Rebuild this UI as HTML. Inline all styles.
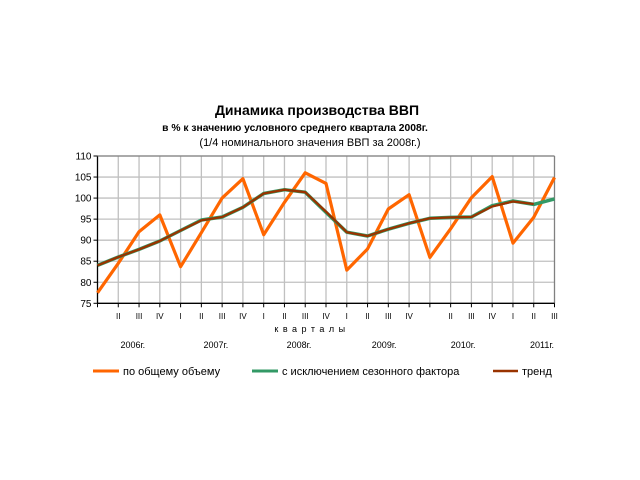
<!DOCTYPE html>
<html><head><meta charset="utf-8"><style>
html,body{margin:0;padding:0;background:#fff;}
svg{display:block;font-family:"Liberation Sans",Arial,sans-serif;}
</style></head><body>
<svg id="chart" width="640" height="480" viewBox="0 0 640 480" xmlns="http://www.w3.org/2000/svg">
<text x="317" y="115" font-size="14" font-weight="bold" text-anchor="middle">Динамика производства ВВП</text>
<text x="295" y="131" font-size="10.3" font-weight="bold" text-anchor="middle">в % к значению условного среднего квартала 2008г.</text>
<text x="310" y="146" font-size="11" text-anchor="middle">(1/4 номинального значения ВВП за 2008г.)</text>
<g id="grid"></g>
<g id="axes"></g>
<g id="series"></g>
<text x="312" y="332" font-size="9" text-anchor="middle" letter-spacing="4.5">кварталы</text>
<g font-size="11">
<line x1="93" y1="371" x2="119" y2="371" stroke="#ff6600" stroke-width="3"/>
<text x="123" y="375">по общему объему</text>
<line x1="252" y1="371" x2="278" y2="371" stroke="#339966" stroke-width="3"/>
<text x="282" y="375">с исключением сезонного фактора</text>
<line x1="493" y1="371" x2="518" y2="371" stroke="#993300" stroke-width="2.5"/>
<text x="522" y="375">тренд</text>
</g>
</svg>
<script>
const quarterLabels = ["","II","III","IV","I","II","III","IV","I","II","III","IV","I","II","III","IV","","II","III","IV","I","II","III"];
const yearLabels = ["2006г.","2007г.","2008г.","2009г.","2010г.","2011г."];
const yearIndexPos = [1.7,5.7,9.7,13.8,17.6,21.4];
const yTicks = [75,80,85,90,95,100,105,110];
const totalVolume = [77.5,84.5,92,96,83.7,91.8,100,104.6,91.3,99,106,103.5,82.9,87.9,97.4,100.8,85.9,92.7,100.1,105.1,89.3,95.4,104.9];
const seasonalAdj = [84,86,87.8,89.8,92.3,94.8,95.5,97.8,101.1,102,101.4,96.6,91.9,91,92.6,94,95.2,95.4,95.5,98.2,99.3,98.5,99.8];
const trend = [84,86,87.8,89.8,92.3,94.7,95.5,97.8,101.1,102,101.4,96.8,91.9,91,92.6,94,95.2,95.4,95.5,98,99.2,98.6];

const NS="http://www.w3.org/2000/svg";
const x0=97.5,x1=554.5,yTop=156,yBot=303.3,yMin=75,yMax=110;
const n=totalVolume.length;
function xPos(i){return x0+i*(x1-x0)/(n-1);}
function yPos(v){return yBot-(v-yMin)/(yMax-yMin)*(yBot-yTop);}
function mk(tag,attrs,parent){const e=document.createElementNS(NS,tag);for(const k in attrs)e.setAttribute(k,attrs[k]);parent.appendChild(e);return e;}
const grid=document.getElementById('grid'),axes=document.getElementById('axes'),series=document.getElementById('series');
yTicks.forEach(v=>{
  const y=yPos(v);
  if(v>yMin){const l=mk('line',{x1:x0,x2:x1,y1:y,y2:y,stroke:'#c0c0c0','stroke-width':1.3},grid);
  
  }
  const t=mk('line',{x1:x0-4,x2:x0,y1:y,y2:y,stroke:'#000','stroke-width':1},axes);
  
  
  const tx=mk('text',{x:x0-6,y:y+3.5,'font-size':10,'text-anchor':'end'},axes);
  tx.textContent=v;
  
  
});
for(let i=0;i<n;i++){
  const x=xPos(i);
  if(i>0){const g=mk('line',{x1:x,x2:x,y1:yTop,y2:yBot,stroke:i==n-1?'#808080':'#c0c0c0','stroke-width':1.3},grid);
  
  }
  const t=mk('line',{x1:x,x2:x,y1:yBot,y2:yBot+4,stroke:'#000','stroke-width':1},axes);
  
  
  const tx=mk('text',{x:x,y:319,'font-size':8,'text-anchor':'middle'},axes);
  tx.textContent=quarterLabels[i];
  
  
}
yearLabels.forEach((yl,k)=>{
  const tx=mk('text',{x:xPos(yearIndexPos[k]),y:348,'font-size':9,'text-anchor':'middle'},axes);
  tx.textContent=yl;
  
  
});
const ax=mk('line',{x1:x0,x2:x0,y1:yTop,y2:yBot,stroke:'#000','stroke-width':1.3},axes);


const bx=mk('line',{x1:x0,x2:x1,y1:yBot,y2:yBot,stroke:'#000','stroke-width':1.3},axes);


const tb=mk('line',{x1:x0,x2:x1,y1:yTop,y2:yTop,stroke:'#808080','stroke-width':1.3},axes);


function pts(arr){return arr.map((v,i)=>xPos(i).toFixed(1)+','+yPos(v).toFixed(1)).join(' ');}
const s1=mk('polyline',{points:pts(totalVolume),fill:'none',stroke:'#ff6600','stroke-width':3.2,'stroke-linejoin':'round'},series);


const s2=mk('polyline',{points:pts(seasonalAdj),fill:'none',stroke:'#339966','stroke-width':3.5,'stroke-linejoin':'round'},series);


const s3=mk('polyline',{points:pts(trend),fill:'none',stroke:'#993300','stroke-width':2.3,'stroke-linejoin':'round'},series);


</script>
</body></html>
